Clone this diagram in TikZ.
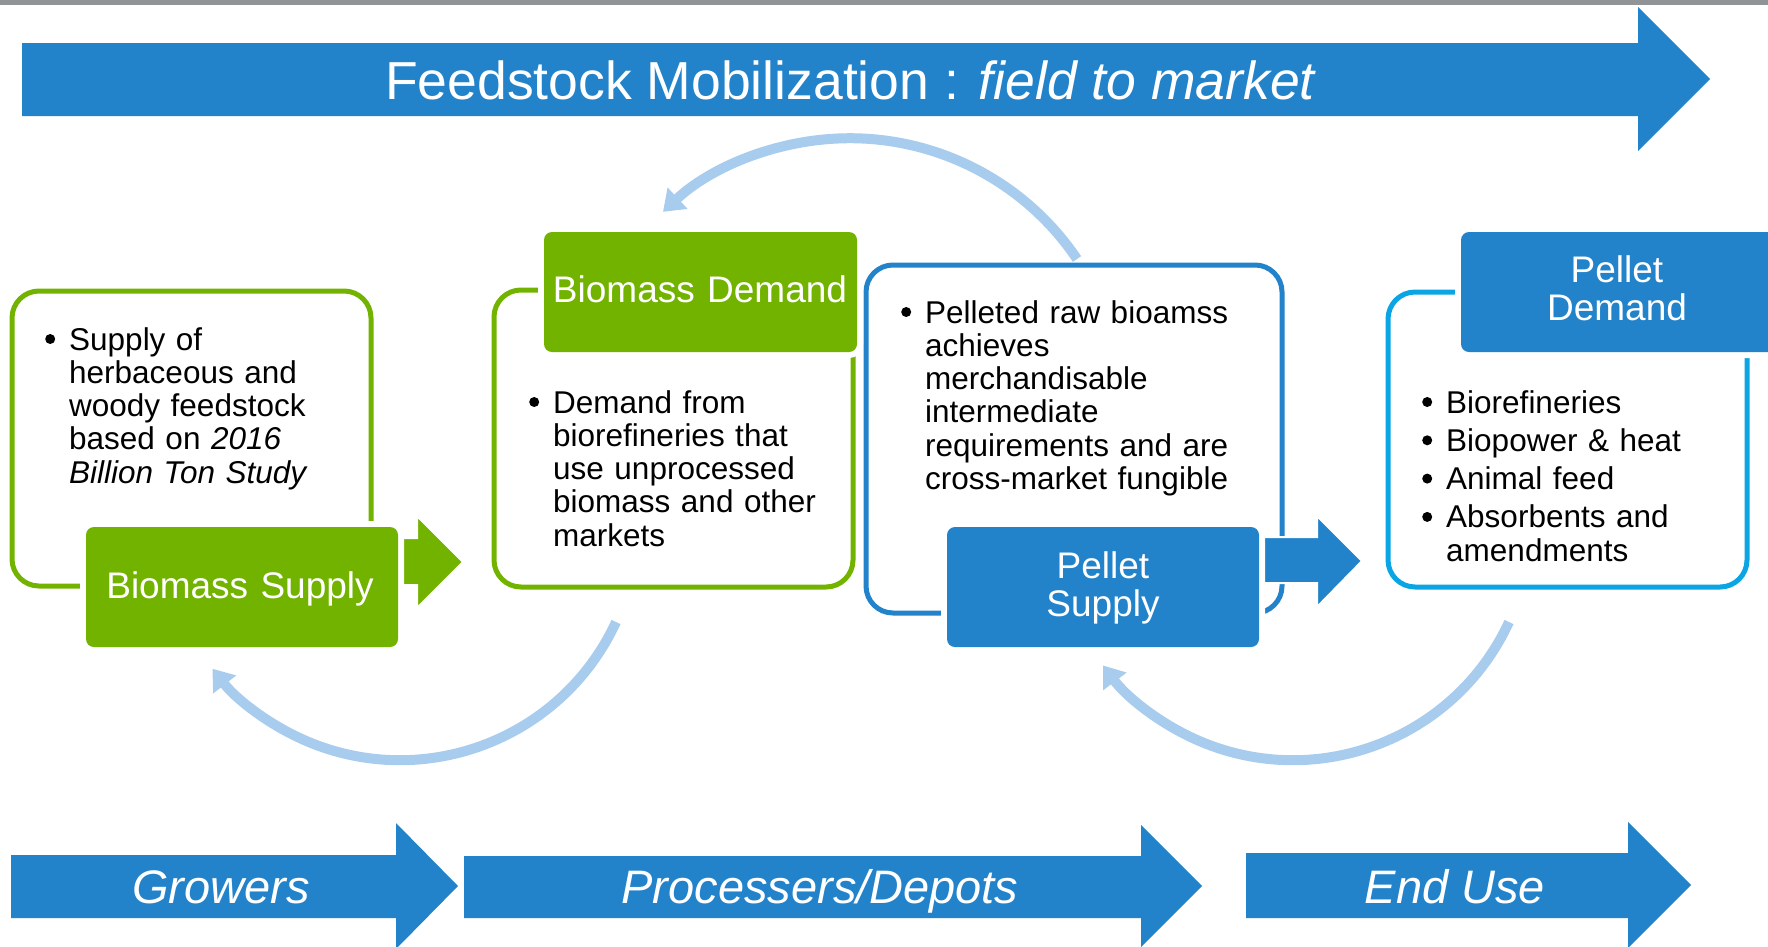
\documentclass[tikz,border=0pt]{standalone}
\usepackage{fontspec}
\setmainfont{Liberation Sans}
\usetikzlibrary{arrows.meta}
\definecolor{cgreen}{RGB}{114,179,0}
\definecolor{cblue}{RGB}{34,131,202}
\definecolor{ccyan}{RGB}{10,165,226}
\definecolor{cloop}{RGB}{168,204,238}
\definecolor{cgray}{RGB}{145,148,151}
\newcommand{\bulletmark}{\leavevmode\llap{\tikz[baseline=-11pt]\fill[black] (0pt,0pt) circle[radius=5pt];\hspace{14pt}}}
\begin{document}
\begin{tikzpicture}[x=1pt,y=-1pt,
  outbox/.style={draw=#1, line width=5pt, rounded corners=27pt, inner sep=0pt},
  solidbox/.style={fill=#1, rounded corners=8pt, inner sep=0pt, preaction={draw=white, line width=12pt}},
  bandarrow/.style={fill=cblue},
  stubarrow/.style={fill=#1, draw=white, line width=2pt},
  loopback/.style={draw=cloop, line width=10pt, -{Triangle[width=28pt,length=20pt]}},
  bullettext/.style={anchor=base west, inner sep=0pt, text width=380pt, align=left, font=\fontsize{31.5pt}{33.3pt}\selectfont},
  headtext/.style={anchor=base, inner sep=0pt, text width=330pt, align=center, text=white, font=\fontsize{37pt}{38.5pt}\selectfont},
  bandtext/.style={anchor=base, inner sep=0pt, text=white, font=\fontsize{47pt}{50pt}\selectfont\itshape},
]
\useasboundingbox (0,0) rectangle (1768,946);
\clip (0,0) rectangle (1768,946);
\fill[cgray] (0,0) rectangle (1768,5);

% top band
\fill[bandarrow] (22,43) -- (1638,43) -- (1638,7) -- (1710,79) -- (1638,151) -- (1638,116) -- (22,116) -- cycle;
\node[anchor=base, inner sep=0pt, text=white, font=\fontsize{53.5pt}{60pt}\selectfont] (title) at (851,99) {Feedstock Mobilization : \textit{field to market}};

% loops
\coordinate (l1s) at (1077,259);
\draw[loopback] (l1s) arc[start angle=-34, end angle=-133, radius=274];
\coordinate (l2s) at (616,622);
\draw[loopback] (l2s) arc[start angle=24.8, end angle=142, radius=238];
\coordinate (l3s) at (1509,622);
\draw[loopback] (l3s) arc[start angle=24.8, end angle=143, radius=238];

% outline boxes
\node[outbox=cgreen, minimum width=359pt, minimum height=295pt] (ob1) at (191.5,438.5) {};
\node[outbox=cgreen, minimum width=359pt, minimum height=297pt] (ob2) at (673.5,438.5) {};
\node[outbox=cblue, minimum width=416pt, minimum height=348pt] (ob3) at (1074,439) {};
\node[outbox=ccyan, minimum width=359pt, minimum height=295pt] (ob4) at (1567.5,439.5) {};

% stub arrows
\path[stubarrow=cgreen] (390,538) -- (417,538) -- (417,516) -- (463,562) -- (417,608) -- (417,585) -- (390,585) -- cycle;
\path[stubarrow=cblue] (1250,537) -- (1317,537) -- (1317,516) -- (1362,561) -- (1317,607) -- (1317,583) -- (1250,583) -- cycle;

% solid boxes
\node[solidbox=cgreen, minimum width=312pt, minimum height=120pt] (bs) at (242,587) {};
\node[solidbox=cgreen, minimum width=313pt, minimum height=120pt] (bd) at (700.5,292) {};
\node[solidbox=cblue, minimum width=312pt, minimum height=120pt] (ps) at (1103,587) {};
\node[solidbox=cblue, minimum width=329pt, minimum height=120pt] (pd) at (1625.5,292) {};

\node[headtext] (bst) at (240,598) {Biomass Supply};
\node[headtext] (bdt) at (700,302) {Biomass Demand};
\node[headtext] (pst) at (1103,578) {Pellet\\Supply};
\node[headtext] (pdt) at (1617,282) {Pellet\\Demand};

% bullet texts
\node[bullettext] (b1) at (69,350) {\bulletmark Supply of\\herbaceous and\\woody feedstock\\based on \textit{2016}\\\textit{Billion Ton Study}};
\node[bullettext] (b2) at (553,413) {\bulletmark Demand from\\biorefineries that\\use unprocessed\\biomass and other\\markets};
\node[bullettext] (b3) at (925,323) {\bulletmark Pelleted raw bioamss\\achieves\\merchandisable\\intermediate\\requirements and are\\cross-market fungible};
\node[bullettext] (b4) at (1446,413) {\bulletmark Biorefineries\\[5pt]\bulletmark Biopower \& heat\\[5pt]\bulletmark Animal feed\\[5pt]\bulletmark Absorbents and\\amendments};

% bottom bands
\fill[bandarrow] (11,855) -- (396,855) -- (396,823) -- (458,886) -- (396,949) -- (396,918) -- (11,918) -- cycle;
\fill[bandarrow] (464,856) -- (1141,856) -- (1141,825) -- (1202,886) -- (1141,947) -- (1141,918) -- (464,918) -- cycle;
\fill[bandarrow] (1246,853) -- (1628,853) -- (1628,822) -- (1691,885) -- (1628,948) -- (1628,918) -- (1246,918) -- cycle;
\node[bandtext] (grow) at (221,903) {Growers};
\node[bandtext] (proc) at (820,903) {Processers/Depots};
\node[bandtext] (enduse) at (1455,903) {End Use};
\end{tikzpicture}
\end{document}
